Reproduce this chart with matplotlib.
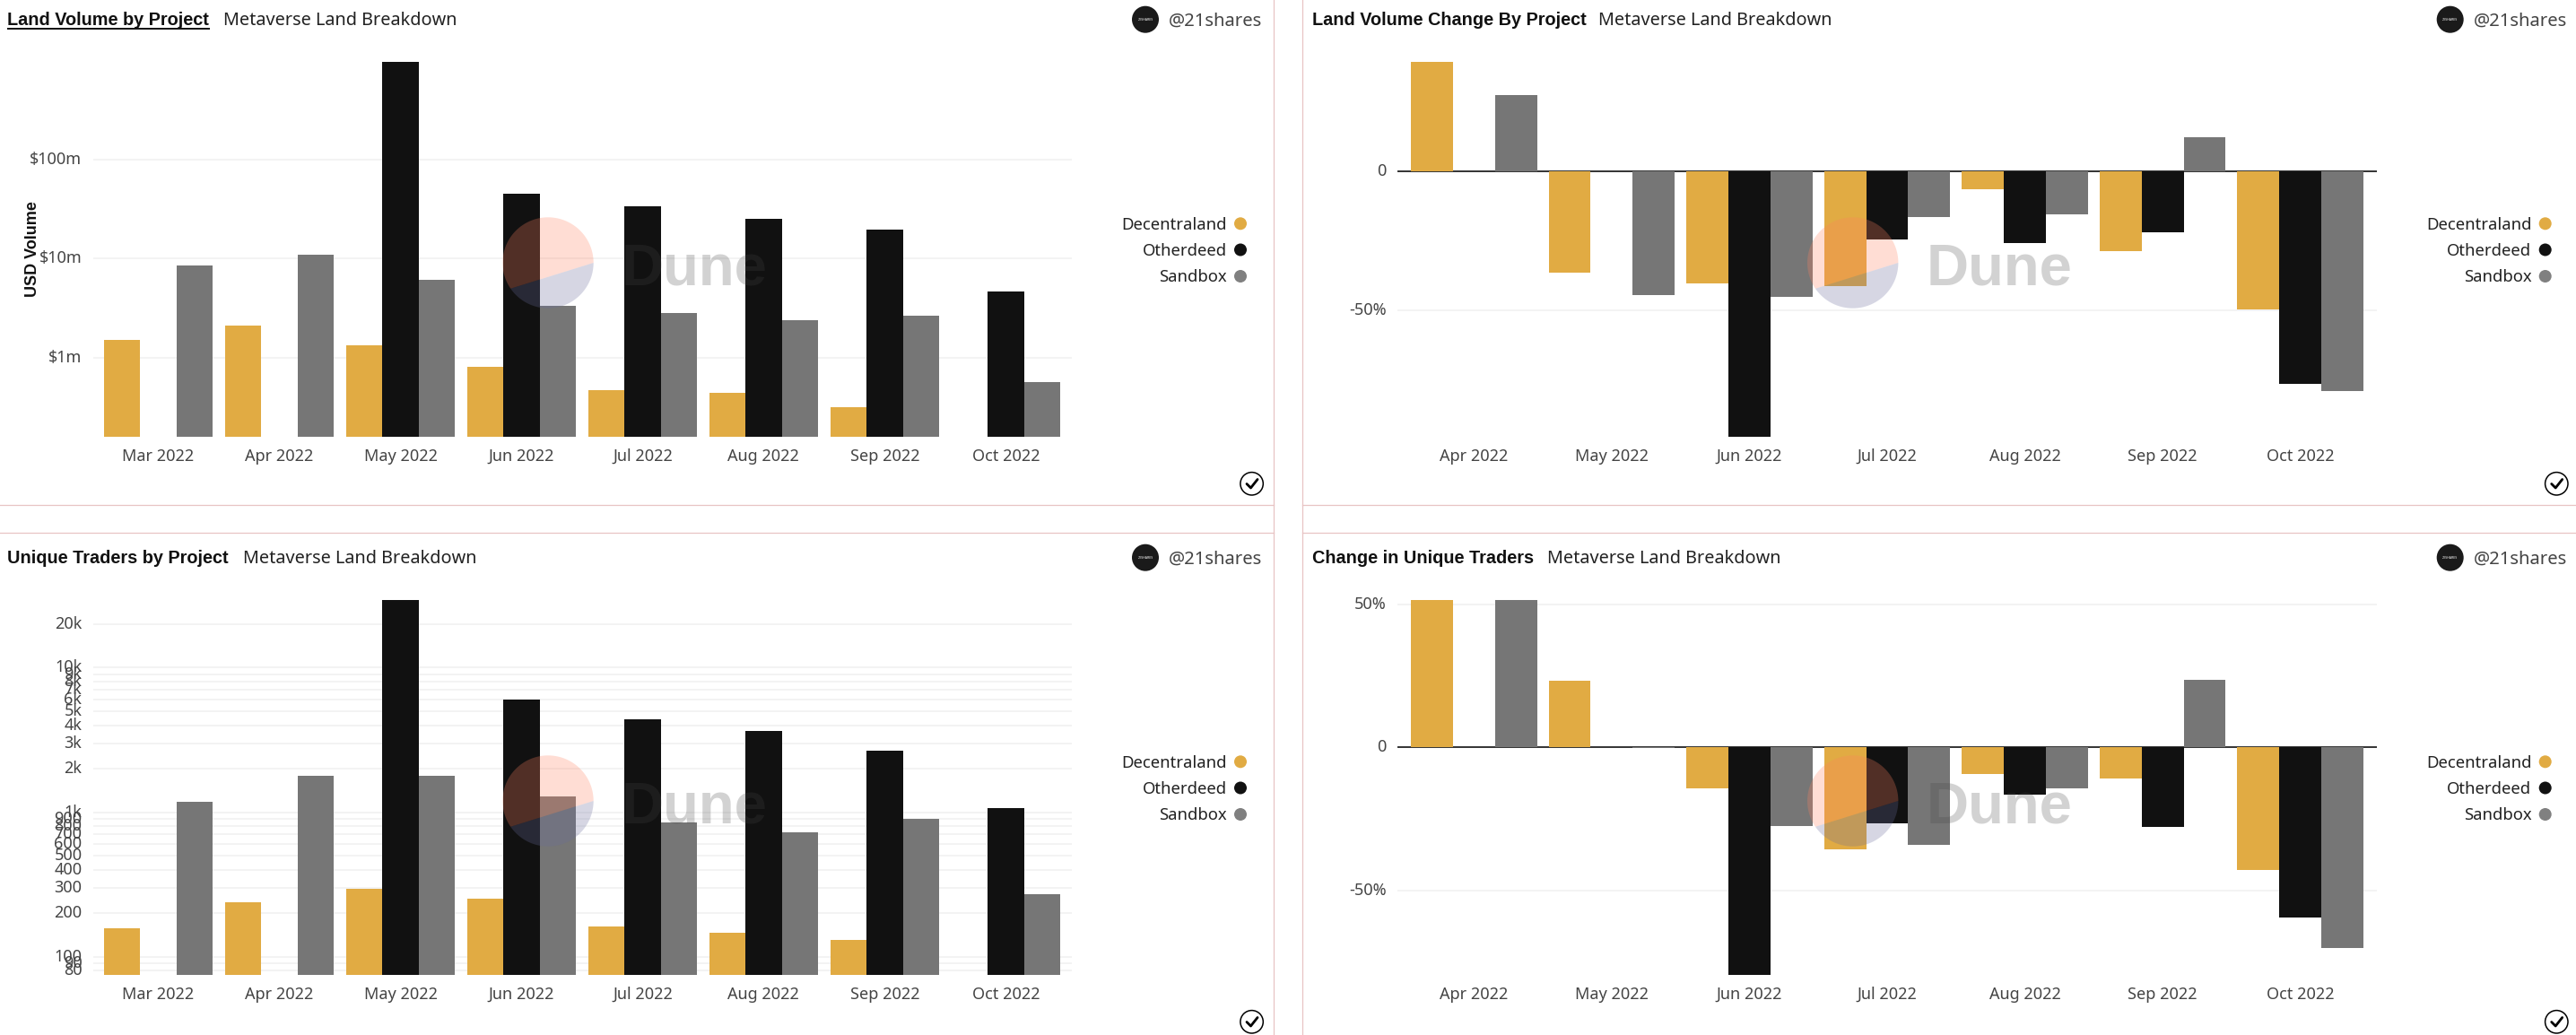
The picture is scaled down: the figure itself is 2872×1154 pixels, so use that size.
#!/usr/bin/env python3
"""Metaverse land breakdown dashboard: four Dune panels, 2872x1154 px."""
import numpy as np
import matplotlib
matplotlib.use("Agg")
import matplotlib.pyplot as plt
from matplotlib.patches import Circle, Polygon
from matplotlib.ticker import NullLocator
from matplotlib.transforms import ScaledTranslation

W, H = 2872, 1154
FONT, BOLD_FONT = "Noto Sans", "Liberation Sans"
GOLD, BLACK, GRAY = "#e1ab43", "#111111", "#767676"
BORDER, GRID, LABEL = "#e8c4c4", "#f1f1f1", "#444444"
plt.rcParams.update({"font.family": FONT, "font.size": 13})

nan = float("nan")
MONTHS_8 = ["Mar 2022", "Apr 2022", "May 2022", "Jun 2022", "Jul 2022", "Aug 2022", "Sep 2022", "Oct 2022"]
MONTHS_7 = MONTHS_8[1:]
PROJECTS = ["Decentraland", "Otherdeed", "Sandbox"]

# USD volume
vol_dec = [1.5e6, 2.1e6, 1.33e6, 806e3, 469e3, 441e3, 316e3, nan]
vol_oth = [nan, nan, 977e6, 45.5e6, 33.9e6, 25.3e6, 19.7e6, 4.65e6]
vol_san = [8.6e6, 11e6, 6.15e6, 3.33e6, 2.82e6, 2.39e6, 2.65e6, 565e3]
vol_ticks = [1e6, 1e7, 1e8]
vol_labels = ["$1m", "$10m", "$100m"]

# volume change, percent
volchg_dec = [39.5, -36.4, -40.3, -41.3, -6.4, -28.6, -49.6]
volchg_oth = [nan, nan, -95.5, -24.4, -25.6, -21.9, -76.4]
volchg_san = [27.6, -44.5, -45.2, -16.3, -15.4, 12.4, -79.0]

# unique traders
trd_dec = [157, 237, 294, 252, 162, 146, 131, nan]
trd_oth = [nan, nan, 29400, 6040, 4400, 3656, 2667, 1069]
trd_san = [1183, 1783, 1783, 1288, 851, 727, 900, 271]
trd_ticks = [80, 90, 100, 200, 300, 400, 500, 600, 700, 800, 900,
             1000, 2000, 3000, 4000, 5000, 6000, 7000, 8000, 9000, 10000, 20000]
trd_labels = ["80", "90", "100", "200", "300", "400", "500", "600", "700", "800", "900",
              "1k", "2k", "3k", "4k", "5k", "6k", "7k", "8k", "9k", "10k", "20k"]

# trader change, percent
trdchg_dec = [51.6, 23.4, -14.2, -35.7, -9.3, -10.8, -42.8]
trdchg_oth = [nan, 0.0, -79.6, -26.6, -16.5, -27.8, -59.6]
trdchg_san = [51.6, -0.2, -27.5, -34.1, -14.2, 23.7, -70.2]

pct_ticks = [-50, 0, 50]
pct_labels = ["-50%", "0", "50%"]


def add_panel_axes(fig, left, right, top, bottom):
    return fig.add_axes([left / W, 1 - bottom / H, (right - left) / W, (bottom - top) / H])


def draw_bars(fig, ax, months, series, bar_width, xlim, ylim, ticks, labels, log=False):
    if log:
        ax.set_yscale("log")
    x = np.arange(len(months))
    base = ylim[0] if log else 0
    for i, (vals, color) in enumerate(zip(series, (GOLD, BLACK, GRAY))):
        heights = np.array(vals, dtype=float) - base
        ax.bar(x + (i - 1) * bar_width, heights, bar_width, bottom=base, color=color, linewidth=0, zorder=3)
    ax.set_xlim(*xlim)
    ax.set_ylim(*ylim)
    ax.set_xticks(x, months)
    ax.set_yticks(ticks, labels)
    ax.yaxis.set_minor_locator(NullLocator())
    ax.tick_params(axis="both", length=0, labelcolor=LABEL, labelsize=13)
    ax.tick_params(axis="x", pad=9.5)
    ax.tick_params(axis="y", pad=9)
    ax.grid(axis="y", color=GRID, linewidth=1.2, zorder=0)
    ax.grid(axis="x", visible=False)
    for s in ax.spines.values():
        s.set_visible(False)
    ax.patch.set_alpha(0)
    if not log:
        ax.axhline(0, color="black", linewidth=1.1, zorder=2)
    # the y labels sit a touch above their grid lines
    nudge = ScaledTranslation(0, 2 / 100, fig.dpi_scale_trans)
    for t in ax.yaxis.get_major_ticks():
        t.label1.set_transform(t.label1.get_transform() + nudge)


def segment(cx, cy, r, a0, a1):
    a = np.radians(np.linspace(a0, a1, 80))
    return np.column_stack([cx + r * np.cos(a), cy - r * np.sin(a)])


def chrome(ov, dx, dy, title, sub_x, underline_end=None):
    # header
    ov.text(8 + dx, 22.5 + dy, title, fontsize=14.3, fontweight="bold", family=BOLD_FONT,
            color="#111111", va="center")
    ov.text(sub_x + dx, 23.5 + dy, "Metaverse Land Breakdown", fontsize=14.3, color="#222222", va="center")
    if underline_end:
        ov.plot([8 + dx, underline_end + dx], [31.5 + dy, 31.5 + dy], color="#111111", lw=1.4, solid_capstyle="butt")
    # owner
    ov.add_patch(Circle((1277 + dx, 21.7 + dy), 15, color="#1a1a1a", lw=0))
    ov.text(1277 + dx, 21.9 + dy, "21SHARES", fontsize=2.6, color="white", ha="center", va="center")
    ov.text(1303 + dx, 23.5 + dy, "@21shares", fontsize=14.6, color=LABEL, va="center")
    # legend
    for name, color, y in zip(PROJECTS, (GOLD, BLACK, GRAY), (249.3, 278.5, 308)):
        ov.add_patch(Circle((1383 + dx, y + dy), 7, color=color if color != GRAY else "#808080", lw=0))
        ov.text(1367.7 + dx, y + 1.5 + dy, name, fontsize=13.3, color="#222222", ha="right", va="center")
    # check mark
    ov.add_patch(Circle((1395.6 + dx, 539.3 + dy), 12.7, fill=False, edgecolor="black", lw=1.1))
    ov.plot(np.array([1390, 1394.5, 1402]) + dx, np.array([539.5, 544, 534.5]) + dy,
            color="black", lw=2, solid_capstyle="round")
    # watermark
    cx, cy, r = 611 + dx, 293 + dy, 50.7
    ov.add_patch(Polygon(segment(cx, cy, r, 0, 214.6), color="#ff8260", alpha=0.27, lw=0, zorder=6))
    ov.add_patch(Polygon(segment(cx, cy, r, 214.6, 360), color="#686b9b", alpha=0.27, lw=0, zorder=6))
    ov.text(cx + 81.7, cy + 24.7, "Dune", fontsize=47, fontweight="bold", family=BOLD_FONT, color="#464646",
            alpha=0.24, va="baseline", zorder=6)


def main():
    fig = plt.figure(figsize=(W / 100, H / 100), dpi=100, facecolor="white")

    dx = 1454.7
    left_x = (-0.538, 7.546)
    right_x = (-0.555, 6.555)

    ax1 = add_panel_axes(fig, 104, 1195, 69, 487)
    draw_bars(fig, ax1, MONTHS_8, (vol_dec, vol_oth, vol_san), 0.3, left_x, (10 ** 5.2, 977e6),
              vol_ticks, vol_labels, log=True)

    ax2 = add_panel_axes(fig, 1558, 2650, 69, 487)
    draw_bars(fig, ax2, MONTHS_7, (volchg_dec, volchg_oth, volchg_san), 0.305, right_x, (-95.5, 39.5),
              [-50, 0], ["-50%", "0"])

    ax3 = add_panel_axes(fig, 104, 1195, 669, 1087)
    draw_bars(fig, ax3, MONTHS_8, (trd_dec, trd_oth, trd_san), 0.3, left_x, (74.7, 29400),
              trd_ticks, trd_labels, log=True)

    ax4 = add_panel_axes(fig, 1558, 2650, 669, 1087)
    draw_bars(fig, ax4, MONTHS_7, (trdchg_dec, trdchg_oth, trdchg_san), 0.305, right_x, (-79.6, 51.6),
              pct_ticks, pct_labels)

    # page-level things are placed in pixels on a clear overlay
    ov = fig.add_axes([0, 0, 1, 1], zorder=10)
    ov.set_xlim(0, W)
    ov.set_ylim(H, 0)
    ov.axis("off")
    ov.patch.set_alpha(0)

    chrome(ov, 0, 0, "Land Volume by Project", 249, underline_end=234)
    chrome(ov, dx, 0, "Land Volume Change By Project", 1782 - dx)
    chrome(ov, 0, 600, "Unique Traders by Project", 271)
    chrome(ov, dx, 600, "Change in Unique Traders", 1725 - dx)

    ov.text(36.5, 277.5, "USD Volume", rotation=90, fontsize=13, fontweight="bold", family=BOLD_FONT,
            color="#111111", ha="center", va="center")

    # panel gutters
    for x in (1420.3, 1451.6):
        ov.plot([x, x], [0, H], color=BORDER, lw=0.9)
    for y in (563.3, 594.3):
        ov.plot([0, 1420.3], [y, y], color=BORDER, lw=0.9)
        ov.plot([1451.6, W], [y, y], color=BORDER, lw=0.9)

    fig.savefig("out.png", dpi=100)


if __name__ == "__main__":
    main()
